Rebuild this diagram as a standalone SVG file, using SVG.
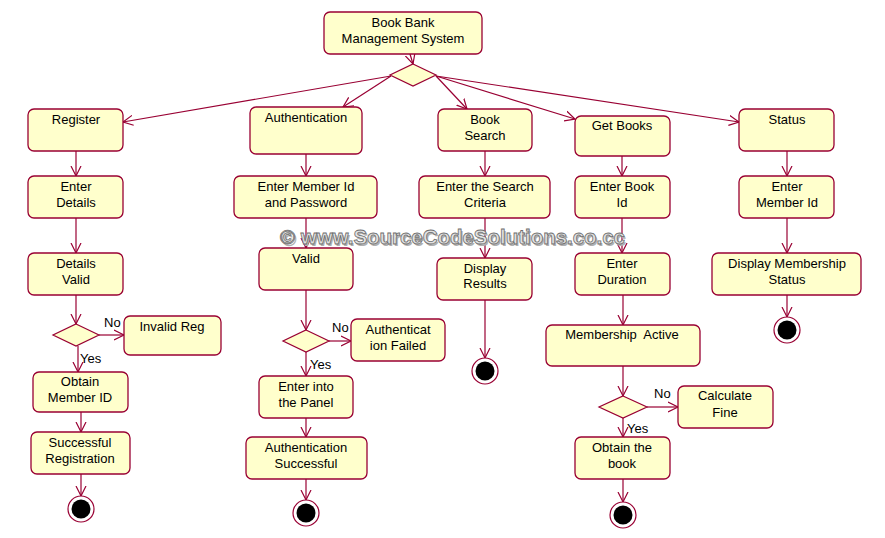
<svg xmlns="http://www.w3.org/2000/svg" width="885" height="538" viewBox="0 0 885 538">
<defs>
<style>
.n rect{fill:#FFFFCC;stroke:#990033;stroke-width:1.3}
.n text,.lbl{font-family:"Liberation Sans",Arial,sans-serif;font-size:13px;fill:#000}
.n text{text-anchor:middle}
.d polygon{fill:#FFFFCC;stroke:#990033;stroke-width:1.2}
.f .o{fill:#fff;stroke:#990033;stroke-width:1.2}
.f .i{fill:#000}
#edges line{stroke:#990033;stroke-width:1.2;marker-end:url(#arr)}
.wm{font-family:"Liberation Sans",Arial,sans-serif;font-size:20px;font-weight:bold;fill:#e2e2e2;stroke:#6e6e6e;stroke-width:0.8}
.wms{font-family:"Liberation Sans",Arial,sans-serif;font-size:20px;font-weight:bold;fill:#b0b0b0}
</style>
<marker id="arr" markerUnits="userSpaceOnUse" markerWidth="12" markerHeight="12" refX="10" refY="5" orient="auto" viewBox="0 0 12 10">
<path d="M0,0 L10,5 L0,10" fill="none" stroke="#990033" stroke-width="1.2"/>
</marker>
</defs>
<rect width="885" height="538" fill="#fff"/>

<g id="edges">
<line x1="410" y1="54" x2="413" y2="64"/>
<line x1="391" y1="76" x2="123" y2="122"/>
<line x1="391" y1="76" x2="343" y2="107"/>
<line x1="436" y1="76" x2="467" y2="109"/>
<line x1="436" y1="76" x2="575" y2="119"/>
<line x1="436" y1="76" x2="739" y2="122"/>

<line x1="76" y1="151" x2="76" y2="176"/>
<line x1="76" y1="218" x2="76" y2="253"/>
<line x1="76" y1="295" x2="76" y2="324"/>
<line x1="99" y1="335" x2="124" y2="335"/>
<line x1="78" y1="346" x2="78" y2="372"/>
<line x1="81" y1="412" x2="81" y2="432"/>
<line x1="81" y1="474" x2="81" y2="496"/>

<line x1="306" y1="154" x2="306" y2="176"/>
<line x1="306" y1="218" x2="306" y2="248"/>
<line x1="306" y1="290" x2="306" y2="330"/>
<line x1="329" y1="341" x2="351" y2="341"/>
<line x1="306" y1="352" x2="306" y2="376"/>
<line x1="306" y1="418" x2="306" y2="437"/>
<line x1="306" y1="479" x2="306" y2="500"/>

<line x1="485" y1="151" x2="485" y2="176"/>
<line x1="485" y1="218" x2="485" y2="258"/>
<line x1="485" y1="300" x2="485" y2="358"/>

<line x1="622" y1="156" x2="622" y2="176"/>
<line x1="622" y1="218" x2="622" y2="253"/>
<line x1="623" y1="295" x2="623" y2="325"/>
<line x1="623" y1="366" x2="623" y2="396"/>
<line x1="647" y1="407" x2="678" y2="407"/>
<line x1="623" y1="418" x2="623" y2="437"/>
<line x1="623" y1="479" x2="623" y2="502"/>

<line x1="787" y1="151" x2="787" y2="176"/>
<line x1="787" y1="218" x2="787" y2="253"/>
<line x1="787" y1="295" x2="787" y2="317"/>
</g>

<g id="labels">
<text class="lbl" x="104" y="327">No</text>
<text class="lbl" x="80" y="363">Yes</text>
<text class="lbl" x="332" y="332">No</text>
<text class="lbl" x="310" y="369">Yes</text>
<text class="lbl" x="654" y="398">No</text>
<text class="lbl" x="627" y="433">Yes</text>
</g>

<g id="n-main" class="n"><rect x="324" y="12" width="158" height="42" rx="6"/><text x="403" y="27">Book Bank</text><text x="403" y="43">Management System</text></g>
<g id="d-main" class="d"><polygon points="413,64 436,75 413,86 390,75"/></g>

<g id="n-register" class="n"><rect x="28" y="109" width="95" height="42" rx="6"/><text x="76" y="124">Register</text></g>
<g id="n-auth" class="n"><rect x="250" y="107" width="112" height="47" rx="6"/><text x="306" y="122">Authentication</text></g>
<g id="n-booksearch" class="n"><rect x="438" y="109" width="94" height="42" rx="6"/><text x="485" y="124">Book</text><text x="485" y="140">Search</text></g>
<g id="n-getbooks" class="n"><rect x="575" y="116" width="95" height="40" rx="6"/><text x="622" y="130">Get Books</text></g>
<g id="n-status" class="n"><rect x="739" y="109" width="95" height="42" rx="6"/><text x="787" y="124">Status</text></g>

<g id="n-enterdetails" class="n"><rect x="28" y="176" width="95" height="42" rx="6"/><text x="76" y="191">Enter</text><text x="76" y="207">Details</text></g>
<g id="n-entermember" class="n"><rect x="234" y="176" width="143" height="42" rx="6"/><text x="306" y="191">Enter Member Id</text><text x="306" y="207">and Password</text></g>
<g id="n-entersearch" class="n"><rect x="419" y="176" width="131" height="42" rx="6"/><text x="485" y="191">Enter the Search</text><text x="485" y="207">Criteria</text></g>
<g id="n-enterbook" class="n"><rect x="575" y="176" width="95" height="42" rx="6"/><text x="622" y="191">Enter Book</text><text x="622" y="207">Id</text></g>
<g id="n-entermemberid" class="n"><rect x="739" y="176" width="95" height="42" rx="6"/><text x="787" y="191">Enter</text><text x="787" y="207">Member Id</text></g>

<g id="n-detailsvalid" class="n"><rect x="28" y="253" width="95" height="42" rx="6"/><text x="76" y="268">Details</text><text x="76" y="284">Valid</text></g>
<g id="n-valid" class="n"><rect x="259" y="248" width="94" height="42" rx="6"/><text x="306" y="263">Valid</text></g>
<g id="n-display" class="n"><rect x="437" y="258" width="95" height="42" rx="6"/><text x="485" y="273">Display</text><text x="485" y="288">Results</text></g>
<g id="n-duration" class="n"><rect x="575" y="253" width="95" height="42" rx="6"/><text x="622" y="268">Enter</text><text x="622" y="284">Duration</text></g>
<g id="n-displaystatus" class="n"><rect x="712" y="253" width="149" height="42" rx="6"/><text x="787" y="268">Display Membership</text><text x="787" y="284">Status</text></g>

<g id="d-reg" class="d"><polygon points="76,324 99,335 76,346 53,335"/></g>
<g id="d-auth" class="d"><polygon points="306,330 329,341 306,352 283,341"/></g>
<g id="d-book" class="d"><polygon points="623,396 647,407 623,418 599,407"/></g>

<g id="n-invalidreg" class="n"><rect x="124" y="316" width="97" height="39" rx="6"/><text x="172" y="331">Invalid Reg</text></g>
<g id="n-authfailed" class="n"><rect x="351" y="319" width="94" height="42" rx="6"/><text x="398" y="334">Authenticat</text><text x="398" y="350">ion Failed</text></g>
<g id="n-memactive" class="n"><rect x="546" y="325" width="154" height="41" rx="6"/><text x="622" y="339" style="white-space:pre">Membership  Active</text></g>

<g id="n-obtainid" class="n"><rect x="33" y="372" width="95" height="40" rx="6"/><text x="80" y="386">Obtain</text><text x="80" y="402">Member ID</text></g>
<g id="n-panel" class="n"><rect x="259" y="376" width="94" height="42" rx="6"/><text x="306" y="391">Enter into</text><text x="306" y="407">the Panel</text></g>
<g id="n-fine" class="n"><rect x="678" y="386" width="95" height="42" rx="6"/><text x="725" y="400">Calculate</text><text x="725" y="417">Fine</text></g>

<g id="n-succreg" class="n"><rect x="31" y="432" width="99" height="42" rx="6"/><text x="80" y="447">Successful</text><text x="80" y="463">Registration</text></g>
<g id="n-authsucc" class="n"><rect x="246" y="437" width="121" height="42" rx="6"/><text x="306" y="452">Authentication</text><text x="306" y="468">Successful</text></g>
<g id="n-obtainbook" class="n"><rect x="575" y="437" width="95" height="42" rx="6"/><text x="622" y="452">Obtain the</text><text x="622" y="468">book</text></g>

<g id="f-reg" class="f"><circle class="o" cx="81" cy="509" r="13"/><circle class="i" cx="81" cy="509" r="9.5"/></g>
<g id="f-auth" class="f"><circle class="o" cx="306" cy="513" r="13"/><circle class="i" cx="306" cy="513" r="9.5"/></g>
<g id="f-search" class="f"><circle class="o" cx="485" cy="371" r="13"/><circle class="i" cx="485" cy="371" r="9.5"/></g>
<g id="f-book" class="f"><circle class="o" cx="623" cy="515" r="13"/><circle class="i" cx="623" cy="515" r="9.5"/></g>
<g id="f-status" class="f"><circle class="o" cx="787" cy="330" r="13"/><circle class="i" cx="787" cy="330" r="9.5"/></g>

<g id="watermark">
<text class="wms" x="281.5" y="245.5" textLength="345" lengthAdjust="spacingAndGlyphs">© www.SourceCodeSolutions.co.cc</text>
<text class="wm" x="280" y="244" textLength="345" lengthAdjust="spacingAndGlyphs">© www.SourceCodeSolutions.co.cc</text>
</g>
</svg>
